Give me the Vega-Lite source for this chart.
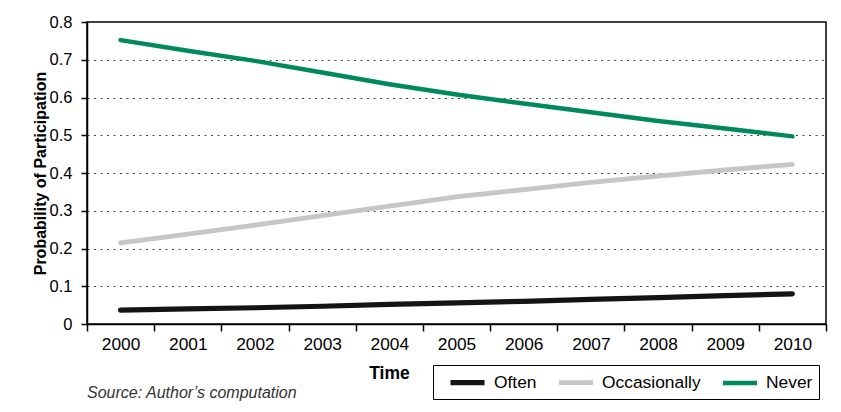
{
  "$schema": "https://vega.github.io/schema/vega-lite/v6.json",
  "width": 739,
  "height": 302,
  "autosize": {"type": "none"},
  "padding": {"left": 87, "top": 22, "right": 15, "bottom": 88},
  "background": "#ffffff",
  "title": {
    "text": "Source: Author’s computation",
    "orient": "bottom",
    "anchor": "start",
    "frame": "group",
    "offset": 4,
    "dy": -19,
    "font": "Liberation Sans",
    "fontSize": 16,
    "fontStyle": "italic",
    "fontWeight": "normal",
    "color": "#333333"
  },
  "data": {
    "values": [
      {"year": "2000", "status": "Often", "p": 0.037},
      {"year": "2001", "status": "Often", "p": 0.040},
      {"year": "2002", "status": "Often", "p": 0.043},
      {"year": "2003", "status": "Often", "p": 0.047},
      {"year": "2004", "status": "Often", "p": 0.052},
      {"year": "2005", "status": "Often", "p": 0.056},
      {"year": "2006", "status": "Often", "p": 0.060},
      {"year": "2007", "status": "Often", "p": 0.065},
      {"year": "2008", "status": "Often", "p": 0.070},
      {"year": "2009", "status": "Often", "p": 0.075},
      {"year": "2010", "status": "Often", "p": 0.080},
      {"year": "2000", "status": "Occasionally", "p": 0.215},
      {"year": "2001", "status": "Occasionally", "p": 0.238},
      {"year": "2002", "status": "Occasionally", "p": 0.262},
      {"year": "2003", "status": "Occasionally", "p": 0.287},
      {"year": "2004", "status": "Occasionally", "p": 0.312},
      {"year": "2005", "status": "Occasionally", "p": 0.337},
      {"year": "2006", "status": "Occasionally", "p": 0.356},
      {"year": "2007", "status": "Occasionally", "p": 0.375},
      {"year": "2008", "status": "Occasionally", "p": 0.392},
      {"year": "2009", "status": "Occasionally", "p": 0.408},
      {"year": "2010", "status": "Occasionally", "p": 0.423},
      {"year": "2000", "status": "Never", "p": 0.752},
      {"year": "2001", "status": "Never", "p": 0.724},
      {"year": "2002", "status": "Never", "p": 0.697},
      {"year": "2003", "status": "Never", "p": 0.666},
      {"year": "2004", "status": "Never", "p": 0.635},
      {"year": "2005", "status": "Never", "p": 0.608},
      {"year": "2006", "status": "Never", "p": 0.584},
      {"year": "2007", "status": "Never", "p": 0.561},
      {"year": "2008", "status": "Never", "p": 0.538},
      {"year": "2009", "status": "Never", "p": 0.518},
      {"year": "2010", "status": "Never", "p": 0.497}
    ]
  },
  "mark": {"type": "line", "strokeCap": "round", "strokeJoin": "round"},
  "encoding": {
    "x": {
      "field": "year",
      "type": "ordinal",
      "bandPosition": 0.5,
      "scale": {"type": "band", "paddingInner": 0, "paddingOuter": 0},
      "axis": {
        "title": "Time",
        "titleFont": "Liberation Sans",
        "titleFontSize": 17.5,
        "titleFontWeight": "bold",
        "titleColor": "#000000",
        "titleX": 302,
        "titleY": 49,
        "titleAnchor": "middle",
        "titleAlign": "center",
        "titleBaseline": "middle",
        "labelAngle": 0,
        "labelFont": "Liberation Sans",
        "labelFontSize": 17.3,
        "labelColor": "#000000",
        "labelPadding": 4,
        "tickBand": "extent",
        "tickSize": 7,
        "tickColor": "#000000",
        "tickWidth": 1.5,
        "domainColor": "#000000",
        "domainWidth": 1.5,
        "grid": false
      }
    },
    "y": {
      "field": "p",
      "type": "quantitative",
      "scale": {"domain": [0, 0.8], "nice": false},
      "axis": {
        "title": "Probability of Participation",
        "titleFont": "Liberation Sans",
        "titleFontSize": 16,
        "titleFontWeight": "bold",
        "titleColor": "#000000",
        "titlePadding": 1,
        "values": [0, 0.1, 0.2, 0.3, 0.4, 0.5, 0.6, 0.7, 0.8],
        "format": ".1~f",
        "labelFont": "Liberation Sans",
        "labelFontSize": 16.5,
        "labelColor": "#000000",
        "labelPadding": 9,
        "tickSize": 6,
        "tickColor": "#000000",
        "tickWidth": 1.5,
        "domainColor": "#000000",
        "domainWidth": 1.5,
        "grid": true,
        "gridColor": "#444444",
        "gridWidth": 1.2,
        "gridDash": [2, 4.5]
      }
    },
    "color": {
      "field": "status",
      "type": "nominal",
      "scale": {
        "domain": ["Often", "Occasionally", "Never"],
        "range": ["#141414", "#c4c6ca", "#008a5b"]
      },
      "legend": {
        "title": null,
        "orient": "none",
        "direction": "horizontal",
        "legendX": 346,
        "legendY": 343,
        "padding": 6,
        "symbolOffset": 17,
        "strokeColor": "#000000",
        "fillColor": "#ffffff",
        "symbolType": "M-2,0H2",
        "symbolSize": 290,
        "symbolStrokeWidth": 5,
        "labelFont": "Liberation Sans",
        "labelFontSize": 17.4,
        "labelColor": "#000000",
        "labelOffset": 15,
        "columnPadding": 11,
        "labelExpr": "datum.label == 'Never' ? 'Never\u00a0\u00a0\u00a0' : datum.label"
      }
    },
    "strokeWidth": {
      "field": "status",
      "type": "nominal",
      "scale": {"domain": ["Often", "Occasionally", "Never"], "range": [5.2, 4.5, 5.2]},
      "legend": null
    }
  },
  "config": {
    "view": {"stroke": "#000000", "strokeWidth": 1.5}
  }
}
